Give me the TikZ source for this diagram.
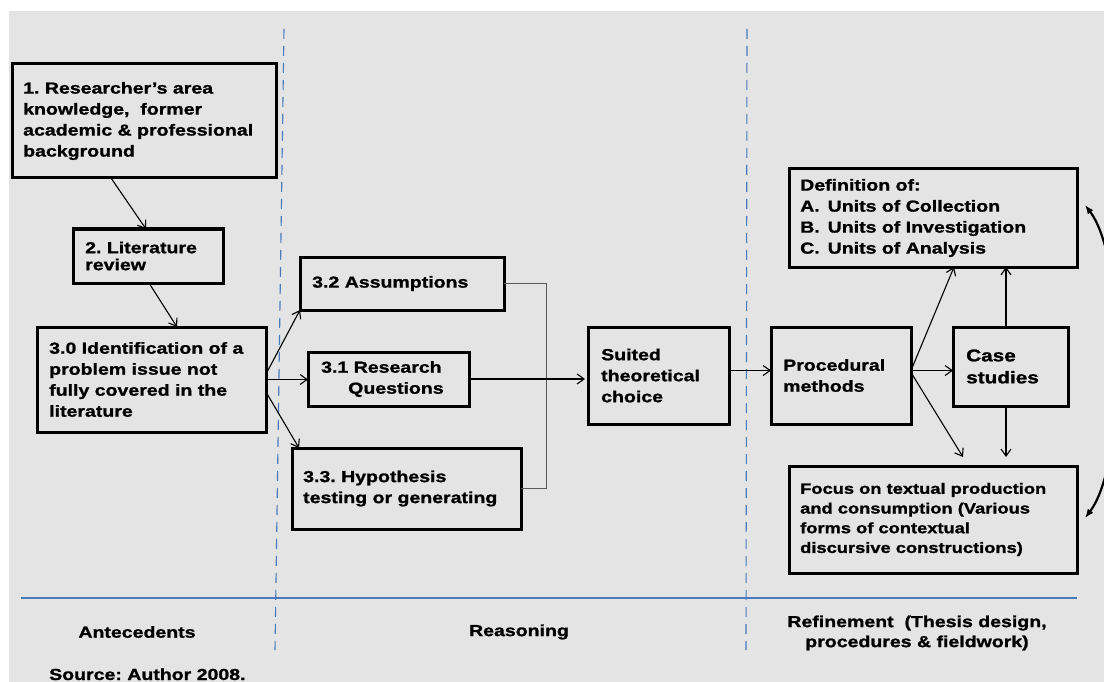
\documentclass[tikz,border=0pt]{standalone}
\usepackage{fontspec}
\setmainfont{Liberation Sans}[FakeStretch=1.22, BoldFeatures={FakeBold=1.2}]
\usetikzlibrary{arrows.meta}
\definecolor{panel}{RGB}{228,228,228}
\definecolor{rulecol}{RGB}{72,122,188}
\definecolor{mergecol}{RGB}{90,90,90}
\frenchspacing

\begin{document}
\begin{tikzpicture}[x=1pt,y=-1pt,
  cellbox/.style={draw, line width=3pt, rectangle, anchor=north west,
    outer sep=0pt, inner sep=0pt},
  txt/.style={anchor=west, inner sep=0pt, align=left,
    font=\bfseries\fontsize{16}{21}\selectfont},
  footlabel/.style={inner sep=0pt, align=center,
    font=\bfseries\fontsize{16}{20}\selectfont},
  flow/.style={line width=1.1pt, -{Straight Barb[length=7pt,width=10pt]}},
  mergeline/.style={line width=0.9pt, mergecol},
  divider/.style={rulecol, line width=1.1pt, dash pattern=on 10pt off 7pt},
  loopback/.style={line width=2.2pt, {Latex[length=9pt,width=7pt]}-{Latex[length=9pt,width=7pt]}}
]
\useasboundingbox (0,0) rectangle (1104,682);
\fill[white] (0,0) rectangle (1104,682);
\fill[panel] (9,11) rectangle (1104,682);

% column separators and base rule
\draw[divider] (284,29) -- (275,650);
\draw[divider] (747,29) -- (746,650);
\draw[rulecol, line width=1.1pt] (21,598) -- (1077,598);

% ---- Antecedents ----
\node[cellbox, minimum width=264pt, minimum height=114pt] (b1) at (12,64) {};
\node[txt] (t1) at ([xshift=11pt]b1.west)
  {1. Researcher’s area\\knowledge,\ \ former\\academic \& professional\\background};

\node[cellbox, minimum width=150pt, minimum height=54pt] (b2) at (73,229) {};
\node[txt, font=\bfseries\fontsize{16}{17}\selectfont] (t2) at ([xshift=12pt]b2.west)
  {2. Literature\\review};

\node[cellbox, minimum width=229pt, minimum height=105pt] (b30) at (37,327) {};
\node[txt] (t30) at ([xshift=12pt]b30.west)
  {3.0 Identification of a\\problem issue not\\fully covered in the\\literature};

% ---- Reasoning ----
\node[cellbox, minimum width=204pt, minimum height=53pt] (b32) at (300,257) {};
\node[txt] (t32) at ([xshift=12pt]b32.west) {3.2 Assumptions};

\node[cellbox, minimum width=161pt, minimum height=54pt] (b31) at (308,352) {};
\node[txt] (t31) at ([xshift=13pt]b31.west) {3.1 Research\\\hspace*{27pt}Questions};

\node[cellbox, minimum width=229pt, minimum height=81pt] (b33) at (292,448) {};
\node[txt] (t33) at ([xshift=11pt]b33.west) {3.3. Hypothesis\\testing or generating};

\node[cellbox, minimum width=141pt, minimum height=97pt] (suited) at (588,327) {};
\node[txt] (tsuited) at ([xshift=13pt]suited.west) {Suited\\theoretical\\choice};

% ---- Refinement ----
\node[cellbox, minimum width=140pt, minimum height=97pt] (proc) at (771,327) {};
\node[txt] (tproc) at ([xshift=12pt]proc.west) {Procedural\\methods};

\node[cellbox, minimum width=115pt, minimum height=79pt] (case) at (953,327) {};
\node[txt, font=\bfseries\fontsize{17}{22}\selectfont] (tcase) at ([xshift=13pt]case.west)
  {Case\\studies};

\node[cellbox, minimum width=288pt, minimum height=98pt] (def) at (789,169) {};
\node[txt] (tdef) at ([xshift=11pt]def.west)
  {Definition of:\\
   \makebox[27.5pt][l]{A.}Units of Collection\\
   \makebox[27.5pt][l]{B.}Units of Investigation\\
   \makebox[27.5pt][l]{C.}Units of Analysis};

\node[cellbox, minimum width=288pt, minimum height=107pt] (focus) at (789,466) {};
\node[txt, font=\bfseries\fontsize{15}{19.7}\selectfont] (tfocus) at ([xshift=11pt]focus.west)
  {Focus on textual production\\and consumption (Various\\forms of contextual\\discursive constructions)};

% ---- connectors ----
\draw[flow] ([xshift=99pt]b1.south west) -- ([xshift=73pt]b2.north west);
\draw[flow] ([xshift=76pt]b2.south west) -- ([xshift=140pt]b30.north west);
\draw[flow] ([yshift=-47pt]b30.north east) -- (b32.south west);
\draw[flow] (b30.east) -- (b30.east -| b31.west);
\draw[flow] ([yshift=-65pt]b30.north east) -- ([xshift=7pt]b33.north west);

\draw[mergeline] (b32.east) -- ++(42,0) |- (b33.east);
\draw[flow] (b31.east) -- ([xshift=-3pt]b31.east -| suited.west);

\draw[flow] ([yshift=5pt]suited.east) -- ([yshift=5pt]suited.east -| proc.west);
\draw[flow] ([yshift=5pt]proc.east) -- ([yshift=5pt]proc.east -| case.west);
\draw[flow] ([yshift=5pt]proc.east) -- ([xshift=165pt]def.south west);
\draw[flow] ([xshift=53pt]case.north west) -- ([xshift=217pt]def.south west);
\draw[flow] ([yshift=3pt]proc.east) -- ([xshift=174pt,yshift=9pt]focus.north west);
\draw[flow] ([xshift=53pt]case.south west) -- ([xshift=217pt,yshift=9pt]focus.north west);

\draw[loopback] ([xshift=8pt,yshift=13pt]def.east)
  .. controls +(42,55) and +(42,-55) .. ([xshift=8pt,yshift=1.5pt]focus.east);

% ---- column captions ----
\node[footlabel] (cap1) at (137,632) {Antecedents};
\node[footlabel] (cap2) at (519,632) {Reasoning};
\node[footlabel] (cap3) at (917,633) {Refinement\ \ (Thesis design,\\procedures \& fieldwork)};
\node[footlabel, anchor=base west] (src) at (49,680) {Source: Author 2008.};
\end{tikzpicture}
\end{document}
